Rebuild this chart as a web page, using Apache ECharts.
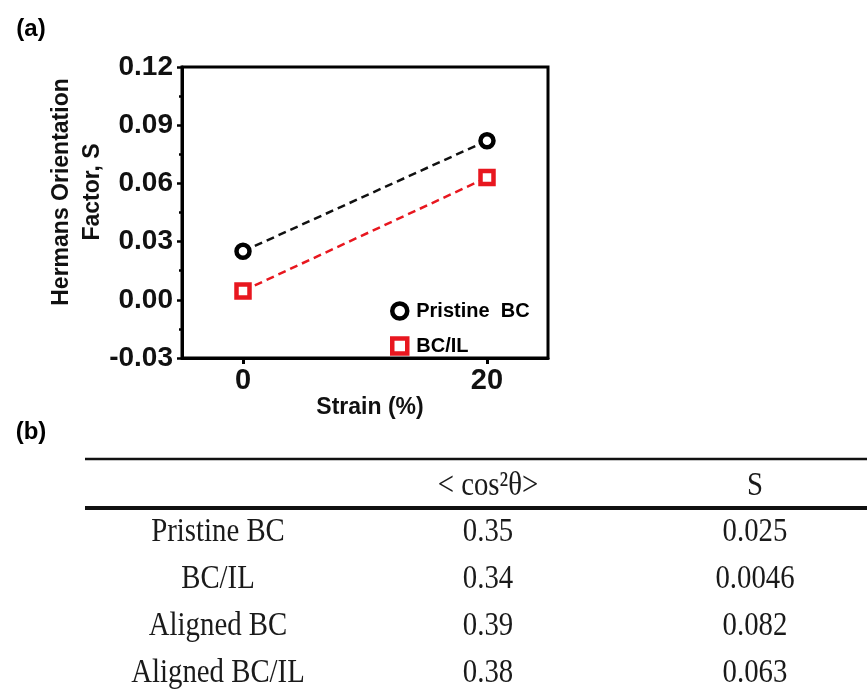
<!DOCTYPE html>
<html>
<head>
<meta charset="utf-8">
<script src="https://cdn.jsdelivr.net/npm/echarts@6/dist/echarts.min.js"></script>
<style>
  html, body { margin: 0; padding: 0; background: #fff; }
  #chart { width: 867px; height: 692px; }
</style>
</head>
<body>
<div id="chart"></div>
<script>
// (a) Hermans orientation factor vs strain
const strain = [0, 20]
const pristineS = [0.025, 0.082]
const bcilS = [0.0046, 0.063]
const seriesNames = ['Pristine  BC', 'BC/IL']

// (b) table
const tableHeader = ['', '< cos²θ>', 'S']
const tableRows = ['Pristine BC', 'BC/IL', 'Aligned BC', 'Aligned BC/IL']
const cosValues = [0.35, 0.34, 0.39, 0.38]
const sValues = [0.025, 0.0046, 0.082, 0.063]

const sans = '"Liberation Sans", Arial, sans-serif'
const serif = '"Liberation Serif", "Times New Roman", serif'
const red = '#e8171f'

const chart = echarts.init(document.getElementById('chart'))

// table layout
const colX = [218, 488, 755]
const headerY = 486
const rowY = [532, 579, 626, 673]
const tableText = (text, x, y) => ({
  type: 'text',
  x, y,
  scaleX: 0.9,
  scaleY: 1.05,
  style: {
    text,
    font: '32px ' + serif,
    fill: '#1a1a1a',
    align: 'center',
    verticalAlign: 'middle',
  },
})

const tableGraphic = [
  { type: 'line', shape: { x1: 85, y1: 459, x2: 867, y2: 459 }, style: { stroke: '#111', lineWidth: 2.5 } },
  { type: 'line', shape: { x1: 85, y1: 508, x2: 867, y2: 508 }, style: { stroke: '#111', lineWidth: 4 } },
]
tableHeader.forEach((h, i) => { if (h) tableGraphic.push(tableText(h, colX[i], headerY)) })
tableRows.forEach((name, i) => {
  tableGraphic.push(tableText(name, colX[0], rowY[i]))
  tableGraphic.push(tableText(String(cosValues[i]), colX[1], rowY[i]))
  tableGraphic.push(tableText(String(sValues[i]), colX[2], rowY[i]))
})

chart.setOption({
  animation: false,
  backgroundColor: '#fff',
  grid: {
    left: 182, right: 319, top: 67, bottom: 334,
    show: true, borderColor: '#000', borderWidth: 3,
  },
  legend: {
    orient: 'vertical',
    left: 385,
    top: 296,
    itemWidth: 15,
    itemHeight: 15,
    itemGap: 15,
    textStyle: { fontFamily: sans, fontSize: 20, fontWeight: 'bold', color: '#000', padding: [0, 0, 0, 4] },
    data: [
      { name: seriesNames[0], icon: 'circle', itemStyle: { color: '#fff', borderColor: '#000', borderWidth: 4.5 } },
      { name: seriesNames[1], icon: 'rect', itemStyle: { color: '#fff', borderColor: red, borderWidth: 4.5 } },
    ],
  },
  xAxis: {
    type: 'value',
    min: -5,
    max: 25,
    name: 'Strain (%)',
    nameLocation: 'middle',
    nameGap: 36,
    nameTextStyle: { fontFamily: sans, fontSize: 23, fontWeight: 'bold', color: '#111', padding: [0, 0, 0, 10] },
    splitLine: { show: false },
    axisLine: { onZero: false, lineStyle: { color: '#000', width: 3 } },
    axisTick: { customValues: strain, length: 6, lineStyle: { width: 3, color: '#000' } },
    axisLabel: {
      customValues: strain,
      margin: 8,
      fontFamily: sans, fontSize: 29, fontWeight: 'bold', color: '#111',
    },
  },
  yAxis: {
    type: 'value',
    min: -0.03,
    max: 0.12,
    interval: 0.03,
    splitLine: { show: false },
    axisLine: { onZero: false, lineStyle: { color: '#000', width: 3 } },
    axisTick: { length: 5, lineStyle: { width: 2.5, color: '#000' } },
    minorTick: { show: true, splitNumber: 2, length: 3, lineStyle: { width: 2.5, color: '#000' } },
    axisLabel: {
      margin: 9,
      fontFamily: sans, fontSize: 28, fontWeight: 'bold', color: '#111',
      formatter: v => v.toFixed(2),
    },
  },
  series: [
    {
      name: seriesNames[0],
      type: 'line',
      data: strain.map((x, i) => [x, pristineS[i]]),
      symbol: 'circle',
      symbolSize: 13,
      z: 3,
      lineStyle: { color: '#111', width: 2.5, type: [8, 5] },
      itemStyle: { color: '#fff', borderColor: '#000', borderWidth: 4.5 },
    },
    {
      name: seriesNames[1],
      type: 'line',
      data: strain.map((x, i) => [x, bcilS[i]]),
      symbol: 'rect',
      symbolSize: 13,
      z: 3,
      lineStyle: { color: red, width: 2.5, type: [8, 5] },
      itemStyle: { color: '#fff', borderColor: red, borderWidth: 4.5 },
    },
  ],
  graphic: [
    { type: 'text', x: 31, y: 29, style: { text: '(a)', font: 'bold 24px ' + sans, fill: '#000', align: 'center', verticalAlign: 'middle' } },
    { type: 'text', x: 31, y: 432, style: { text: '(b)', font: 'bold 24px ' + sans, fill: '#000', align: 'center', verticalAlign: 'middle' } },
    {
      type: 'text', x: 77, y: 192, rotation: Math.PI / 2,
      style: {
        text: 'Hermans Orientation\nFactor, S',
        font: 'bold 23px ' + sans, lineHeight: 31, fill: '#111',
        align: 'center', verticalAlign: 'middle',
      },
    },
    ...tableGraphic,
  ],
})
</script>
</body>
</html>
